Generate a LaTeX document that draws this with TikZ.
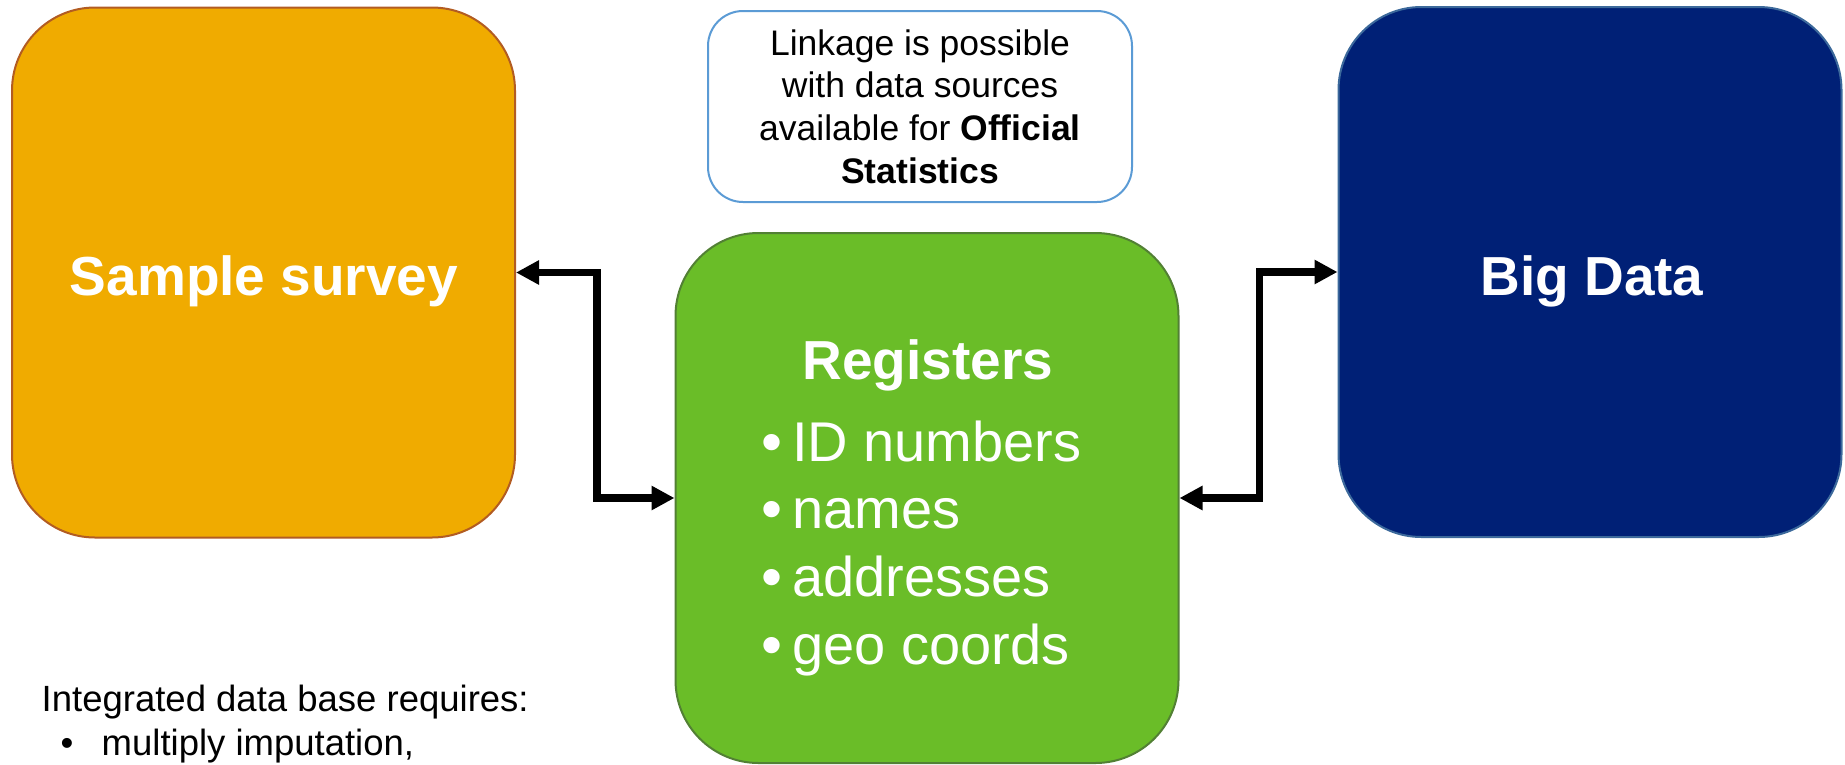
\documentclass[tikz,border=0pt]{standalone}
\usepackage{fontspec}
\setmainfont{Liberation Sans}
\usetikzlibrary{arrows.meta}

\definecolor{surveyfill}{RGB}{240,171,0}
\definecolor{surveyline}{RGB}{178,92,34}
\definecolor{regfill}{RGB}{106,189,40}
\definecolor{regline}{RGB}{82,128,52}
\definecolor{bigfill}{RGB}{0,32,118}
\definecolor{bigline}{RGB}{60,105,155}
\definecolor{noteline}{RGB}{91,155,213}

\begin{document}
\begin{tikzpicture}[x=1pt,y=-1pt,
  card/.style={draw, line width=2pt, rounded corners=83pt,
    minimum width=503pt, minimum height=530pt, inner sep=0pt},
  title/.style={text=white, font=\fontsize{55}{66}\selectfont\bfseries,
    anchor=base, inner sep=0pt},
  item/.style={text=white, font=\fontsize{56}{67}\selectfont,
    anchor=base west, inner sep=0pt},
  dot/.style={text=white, font=\fontsize{60}{67}\selectfont,
    anchor=base, inner sep=0pt},
  plain/.style={font=\fontsize{36.5}{44}\selectfont, anchor=base west, inner sep=0pt},
  plaindot/.style={font=\fontsize{36.5}{44}\selectfont, anchor=base, inner sep=0pt},
  link/.style={line width=7.5pt,
    {Triangle[length=23pt,width=23pt]}-{Triangle[length=23pt,width=23pt]}}
]
\useasboundingbox (0,0) rectangle (1845,764);

% the three data sources
\node[card, fill=surveyfill, draw=surveyline] (survey) at (263.5,272.5) {};
\node[card, fill=regfill, draw=regline] (reg) at (927,498) {};
\node[card, fill=bigfill, draw=bigline] (big) at (1590,272) {};

% note on linkage
\node[draw=noteline, line width=2pt, fill=white, rounded corners=35pt,
  minimum width=424pt, minimum height=191pt, inner sep=0pt, align=center,
  font=\fontsize{35.5}{42.7}\selectfont] (note) at (920,106.5)
  {Linkage is possible\\with data sources\\available for \textbf{Official}\\\textbf{Statistics}};

% box titles
\node[title] (surveytitle) at (264,295) {Sample survey};
\node[title] (bigtitle) at (1592,295) {Big Data};
\node[title] (regtitle) at (928,379) {Registers};

% register contents
\node[dot] (d1) at (772,462) {•};
\node[item] (i1) at (792,461) {ID numbers};
\node[dot] (d2) at (772,529) {•};
\node[item] (i2) at (792,528) {names};
\node[dot] (d3) at (772,597) {•};
\node[item] (i3) at (792,596) {addresses};
\node[dot] (d4) at (772,665) {•};
\node[item] (i4) at (792,664) {geo coords};

% two-way links
\draw[link] (survey.east) -- ++(81,0) |- (reg.west);
\draw[link] (reg.east) -- ++(80,0) |- (big.west);

% remark below
\node[plain] (req) at (41.5,711) {Integrated data base requires:};
\node[plaindot] (rdot) at (67,755) {•};
\node[plain] (req1) at (101.5,755) {multiply imputation,};
\end{tikzpicture}
\end{document}
